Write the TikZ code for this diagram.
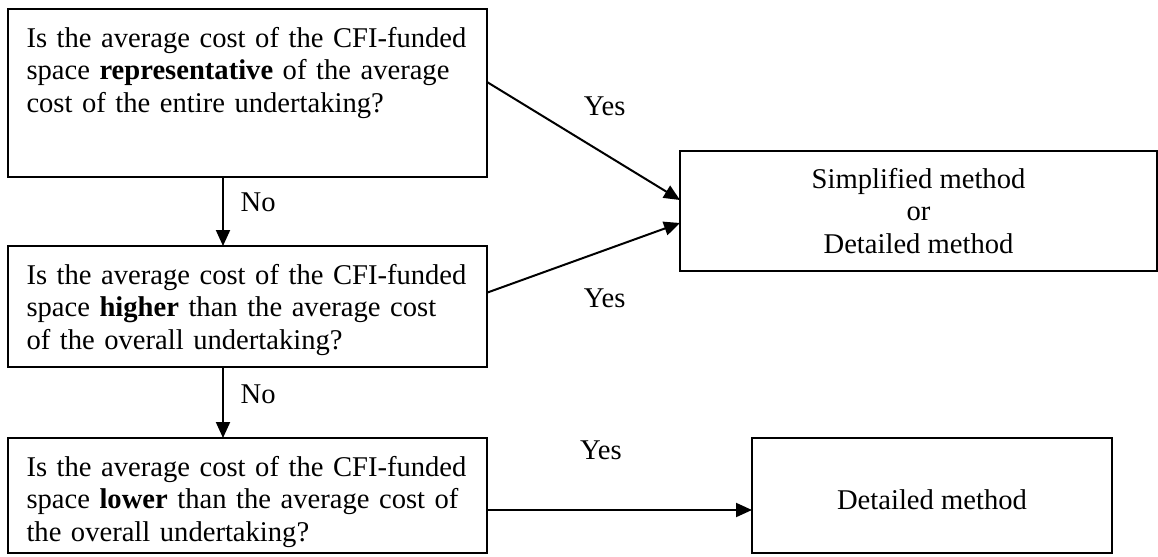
\documentclass[tikz,border=0pt]{standalone}
\usepackage{fontspec}
\setmainfont{Liberation Serif}
\usepackage{tikz}
\usetikzlibrary{arrows.meta,positioning}

\newcommand{\qfont}{\fontsize{14.3}{16.3}\selectfont}

\begin{document}
\begin{tikzpicture}[x=0.5pt, y=-0.5pt, line width=1pt, >={Triangle[length=8pt,width=7pt]},
    question/.style={draw, anchor=north west, outer sep=0pt, text width=221pt, align=left,
        inner xsep=9.25pt, inner ysep=6pt, text height=13pt, font=\qfont},
    answer/.style={draw, anchor=north west, outer sep=0pt, align=center, inner sep=0pt, font=\qfont}]
            \useasboundingbox (0,0) rectangle (1158,557);

            \node[question, text depth=59pt] (q1) at (8,9) {Is the average cost of the CFI-funded\\ space \textbf{representative} of the average\\ cost of the entire undertaking?};
            \node[question] (q2) at (8,246) {Is the average cost of the CFI-funded\\ space \textbf{higher} than the average cost\\ of the overall undertaking?};
            \node[question, text depth=32.5pt] (q3) at (8,438) {Is the average cost of the CFI-funded\\ space \textbf{lower} than the average cost of\\ the overall undertaking?};
            \node[answer, minimum width=238.5pt, minimum height=60pt] (both) at (680,151) {Simplified method\\ or\\ Detailed method};
            \node[answer, minimum width=180pt, minimum height=57.5pt, text height=14.5pt] (detail) at (752,438) {Detailed method};

            \path[->, every node/.style={font=\qfont}]
                ([xshift=-12.25pt]q1.south) edge node[right, pos=0.36, xshift=5pt] {No} ([xshift=-12.25pt]q2.north)
                ([xshift=-12.25pt]q2.south) edge node[right, pos=0.375, xshift=5pt] {No} ([xshift=-12.25pt]q3.north)
                ([yshift=5.5pt]q1.east) edge node[pos=0.61, yshift=24pt] {Yes} ([yshift=5.5pt]both.west)
                ([yshift=7pt]q2.east) edge node[pos=0.61, yshift=-24pt] {Yes} ([yshift=-6pt]both.west)
                ([yshift=-7.25pt]q3.east) edge node[pos=0.43, yshift=30pt] {Yes} ([yshift=-7.25pt]detail.west);
        \end{tikzpicture}
\end{document}
